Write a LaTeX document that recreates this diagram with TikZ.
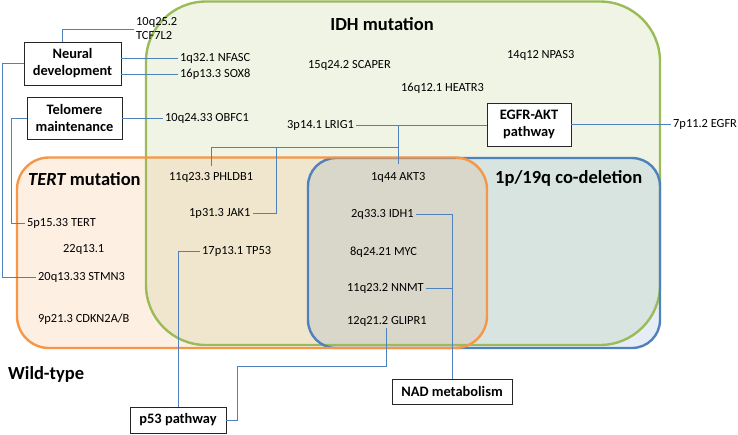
\documentclass[tikz,border=0pt]{standalone}
\usepackage{fontspec}
\setmainfont{Carlito}
\usetikzlibrary{calc}
\definecolor{gr}{HTML}{9BBB59}
\definecolor{og}{HTML}{F79646}
\definecolor{bl}{HTML}{4F81BD}
\definecolor{ln}{HTML}{4F81BD}
\begin{document}
\begin{tikzpicture}[x=1pt,y=-1pt,
  genebase/.style={anchor=west,inner xsep=2pt,inner ysep=1pt,font=\fontsize{12.4}{14}\selectfont},
  gene/.style={genebase,text height=8.5pt,text depth=2.5pt},
  grp/.style={inner sep=2pt,font=\bfseries\fontsize{18.5}{22}\selectfont},
  fbox/.style={draw=black!85,line width=0.9pt,fill=white,align=center,font=\bfseries\fontsize{14.4}{17}\selectfont,inner sep=0pt},
  conn/.style={draw=ln,line width=0.9pt},
  region/.style={line width=2.4pt}]
\useasboundingbox (0,0) rectangle (738,434);
% region fills
\fill[gr,fill opacity=0.16,rounded corners=60] (146,1.5) rectangle (660,345);
\fill[og,fill opacity=0.15,rounded corners=32] (17,157.5) rectangle (487,348);
\fill[bl,fill opacity=0.14,rounded corners=28] (308,158) rectangle (660,348);
% region outlines
\draw[gr,region,rounded corners=60] (146,1.5) rectangle (660,345);
\draw[bl,region,rounded corners=28] (308,158) rectangle (660,348);
\draw[og,region,rounded corners=32] (17,157.5) rectangle (487,348);
% group titles
\node[grp] (idh) at (382,24) {IDH mutation};
\node[grp,anchor=west] (tertm) at (26,179) {{\itshape TERT} mutation};
\node[grp,anchor=west] (codel) at (493,178) {1p/19q co-deletion};
\node[grp,anchor=west] (wt) at (6,374) {Wild-type};
% pathway boxes
\node[fbox,minimum width=97,minimum height=43] (nd) at (72.5,63.5) {Neural\\development};
\node[fbox,minimum width=95,minimum height=42] (tm) at (74.5,118) {Telomere\\maintenance};
\node[fbox,minimum width=84,minimum height=43] (ea) at (529,124.5) {EGFR-AKT\\pathway};
\node[fbox,minimum width=96,minimum height=26] (p53) at (178,420) {p53 pathway};
\node[fbox,minimum width=120,minimum height=25] (nad) at (452,391.5) {NAD metabolism};
% gene labels
\node[genebase,align=left] (tcf) at (134,29) {10q25.2\\TCF7L2};
\node[gene] (nfasc) at (178,58) {1q32.1 NFASC};
\node[gene] (sox) at (178,74) {16p13.3 SOX8};
\node[gene] (obfc) at (163,118) {10q24.33 OBFC1};
\node[gene] (scaper) at (306,65) {15q24.2 SCAPER};
\node[gene] (heatr) at (399,88) {16q12.1 HEATR3};
\node[gene] (npas) at (505,55) {14q12 NPAS3};
\node[gene] (lrig) at (285,125) {3p14.1 LRIG1};
\node[gene] (egfr) at (671,124.5) {7p11.2 EGFR};
\node[gene] (phldb) at (167,177) {11q23.3 PHLDB1};
\node[gene] (jak) at (187,213) {1p31.3 JAK1};
\node[gene] (tp53) at (200,251) {17p13.1 TP53};
\node[gene] (tert) at (25,223) {5p15.33 TERT};
\node[gene] (q22) at (61,249) {22q13.1};
\node[gene] (stmn) at (36,277) {20q13.33 STMN3};
\node[gene] (cdkn) at (36,319) {9p21.3 CDKN2A/B};
\node[gene] (akt) at (369,177) {1q44 AKT3};
\node[gene] (idh1) at (349,214) {2q33.3 IDH1};
\node[gene] (myc) at (348,252) {8q24.21 MYC};
\node[gene] (nnmt) at (345,288) {11q23.2 NNMT};
\node[gene] (glipr) at (345,321) {12q21.2 GLIPR1};
% connectors: neural development
\draw[conn] ([xshift=-10pt]nd.north) |- (tcf.west);
\draw[conn] (nd.east |- nfasc.west) -- (nfasc.west);
\draw[conn] (nd.east |- sox.west) -- (sox.west);
\draw[conn] (nd.west) -- ++(-21,0) |- (stmn.west);
% telomere maintenance
\draw[conn] (tm.west) -- ++(-15,0) |- (tert.west);
\draw[conn] (tm.east) -- (obfc.west);
% EGFR-AKT pathway
\draw[conn] (lrig.east) -- (ea.west |- lrig.east);
\draw[conn] (ea.east) -- (egfr.west |- ea.east);
\coordinate (j1) at (akt.north |- lrig.east);
\coordinate (j2) at ($(j1)+(0,22)$);
\coordinate (j3) at (276,147);
\draw[conn] (j1) -- ([yshift=6pt]akt.north);
\draw[conn] (j2) -| ([yshift=4pt]phldb.north);
\draw[conn] (j3) |- (jak.east);
% p53 pathway
\coordinate (bend) at (237,366);
\draw[conn] (p53.north) |- (tp53.west);
\draw[conn] (p53.east) -| (bend) -| (glipr.south);
% NAD metabolism
\draw[conn] (nad.north) |- (idh1.east);
\draw[conn] (nnmt.east) -- (nnmt.east -| nad.north);
\end{tikzpicture}
\end{document}
